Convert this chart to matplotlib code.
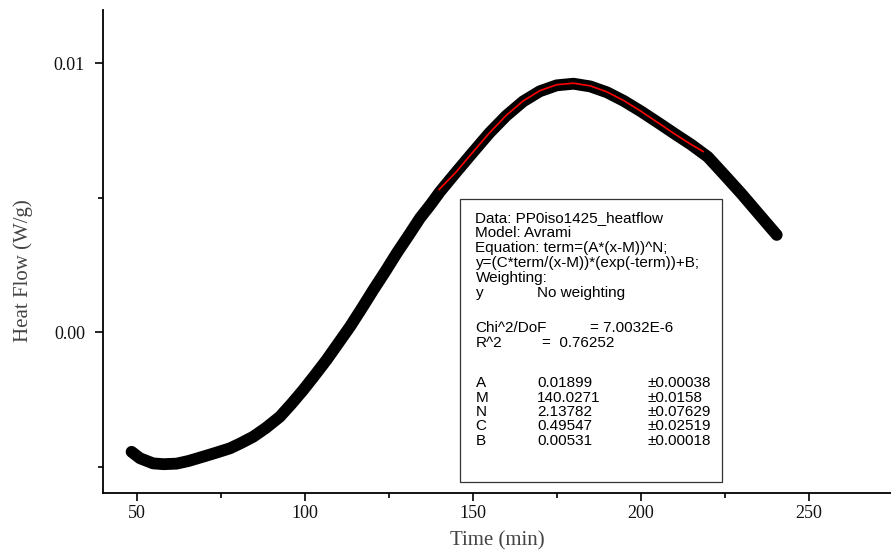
import numpy as np
import matplotlib
matplotlib.use('Agg')
import matplotlib.pyplot as plt
from matplotlib.ticker import FixedLocator, FixedFormatter
from matplotlib.patches import Rectangle

time_min = [48.5, 51, 54.9, 58, 61.9, 65.5, 69.8, 73.5, 77.8, 81, 84.7, 88.5, 92.6,
            96, 99.6, 103, 106.5, 110, 113.5, 117, 120.4, 124, 127.4, 131, 134.3,
            137.5, 140.3, 145, 150, 155, 160, 165, 170, 175, 180, 185, 190, 195,
            200, 205, 210, 215, 220, 225, 230, 235, 240.5]
heat_flow = [-0.00444, -0.00468, -0.00487, -0.00490, -0.00488, -0.00478, -0.00462,
             -0.00448, -0.00431, -0.00412, -0.00388, -0.00355, -0.00314, -0.00267,
             -0.00214, -0.00160, -0.00103, -0.00041, 0.00021, 0.00089, 0.00157,
             0.00226, 0.00294, 0.00361, 0.00424, 0.00475, 0.00523, 0.00594, 0.00668,
             0.00741, 0.00805, 0.00858, 0.00896, 0.00918, 0.00924, 0.00914, 0.00892,
             0.00860, 0.00822, 0.00781, 0.00739, 0.00698, 0.00652, 0.00584, 0.00515,
             0.00442, 0.00362]

# Avrami fit curve (red)
fit_x = [140.03, 145, 150, 155, 160, 165, 170, 175, 180, 185, 190, 195, 200, 205,
         210, 215, 218.6]
fit_y = [0.00531, 0.005948, 0.006687, 0.007412, 0.008063, 0.008597, 0.008982,
         0.009203, 0.009259, 0.009162, 0.008935, 0.008611, 0.008223, 0.007804,
         0.007383, 0.006984, 0.006721]

fit_lines = ["Data: PP0iso1425_heatflow", "Model: Avrami",
             "Equation: term=(A*(x-M))^N;", "y=(C*term/(x-M))*(exp(-term))+B;",
             "Weighting:"]
param_names = ["A", "M", "N", "C", "B"]
param_vals = ["0.01899", "140.0271", "2.13782", "0.49547", "0.00531"]
param_errs = ["\u00b10.00038", "\u00b10.0158", "\u00b10.07629", "\u00b10.02519", "\u00b10.00018"]

W, H = 891, 556
fig = plt.figure(figsize=(W / 100, H / 100), dpi=100)
ax = fig.add_axes([103 / W, 1 - 492.7 / H, (W - 103) / W, (492.7 - 10) / H])

ax.plot(time_min, heat_flow, color='black', lw=8.5, solid_capstyle='round',
        solid_joinstyle='round', zorder=2)
ax.plot(fit_x, fit_y, color='red', lw=1.2, zorder=3)

ax.set_xlim(40, 274.5)
ax.set_ylim(-0.00596, 0.01198)

ax.spines['top'].set_visible(False)
ax.spines['right'].set_visible(False)
for s in ['left', 'bottom']:
    ax.spines[s].set_linewidth(1.3)

ax.xaxis.set_major_locator(FixedLocator([50, 100, 150, 200, 250]))
ax.xaxis.set_minor_locator(FixedLocator([75, 125, 175, 225]))
ax.yaxis.set_major_locator(FixedLocator([0.0, 0.01]))
ax.yaxis.set_major_formatter(FixedFormatter(["0.00", "0.01"]))
ax.yaxis.set_minor_locator(FixedLocator([-0.005, 0.005]))
ax.tick_params(which='major', direction='out', length=6, width=1.2)
ax.tick_params(which='minor', direction='out', length=3.5, width=1.2)
ax.tick_params(axis='x', which='major', pad=3)
ax.tick_params(axis='y', which='major', pad=7)
for lab in ax.get_xticklabels() + ax.get_yticklabels():
    lab.set_fontfamily('Liberation Serif')
    lab.set_fontsize(13)
    lab.set_color('#111111')

fig.text(497 / W, 1 - 541 / H, "Time (min)", family='Liberation Serif', fontsize=15,
         color='#444444', ha='center', va='center')
fig.text(23 / W, 1 - 271 / H, "Heat Flow (W/g)", family='Liberation Serif', fontsize=15,
         color='#444444', ha='center', va='center', rotation=90)

# fit report box
fig.patches.append(Rectangle((460 / W, 1 - 481.5 / H), (722 - 460) / W, (481.5 - 199) / H,
                             transform=fig.transFigure, fill=False,
                             edgecolor='#333333', lw=0.9))
tkw = dict(family='Liberation Sans', fontsize=11, va='center', color='black')
x1, x2, x3 = 475.5, 537, 647
for i, line in enumerate(fit_lines):
    fig.text(x1 / W, 1 - (218.3 + 15 * i) / H, line, **tkw)
fig.text(x1 / W, 1 - 293.3 / H, "y", **tkw)
fig.text(x2 / W, 1 - 293.3 / H, "No weighting", **tkw)
fig.text(x1 / W, 1 - 328.3 / H, "Chi^2/DoF", **tkw)
fig.text(590 / W, 1 - 328.3 / H, "= 7.0032E-6", **tkw)
fig.text(x1 / W, 1 - 343.3 / H, "R^2", **tkw)
fig.text(542 / W, 1 - 343.3 / H, "=  0.76252", **tkw)
for i in range(len(param_names)):
    yy = 1 - (383.3 + 14.35 * i) / H
    fig.text(x1 / W, yy, param_names[i], **tkw)
    fig.text(x2 / W, yy, param_vals[i], **tkw)
    fig.text(x3 / W, yy, param_errs[i], **tkw)

fig.savefig('out.png', dpi=100)
